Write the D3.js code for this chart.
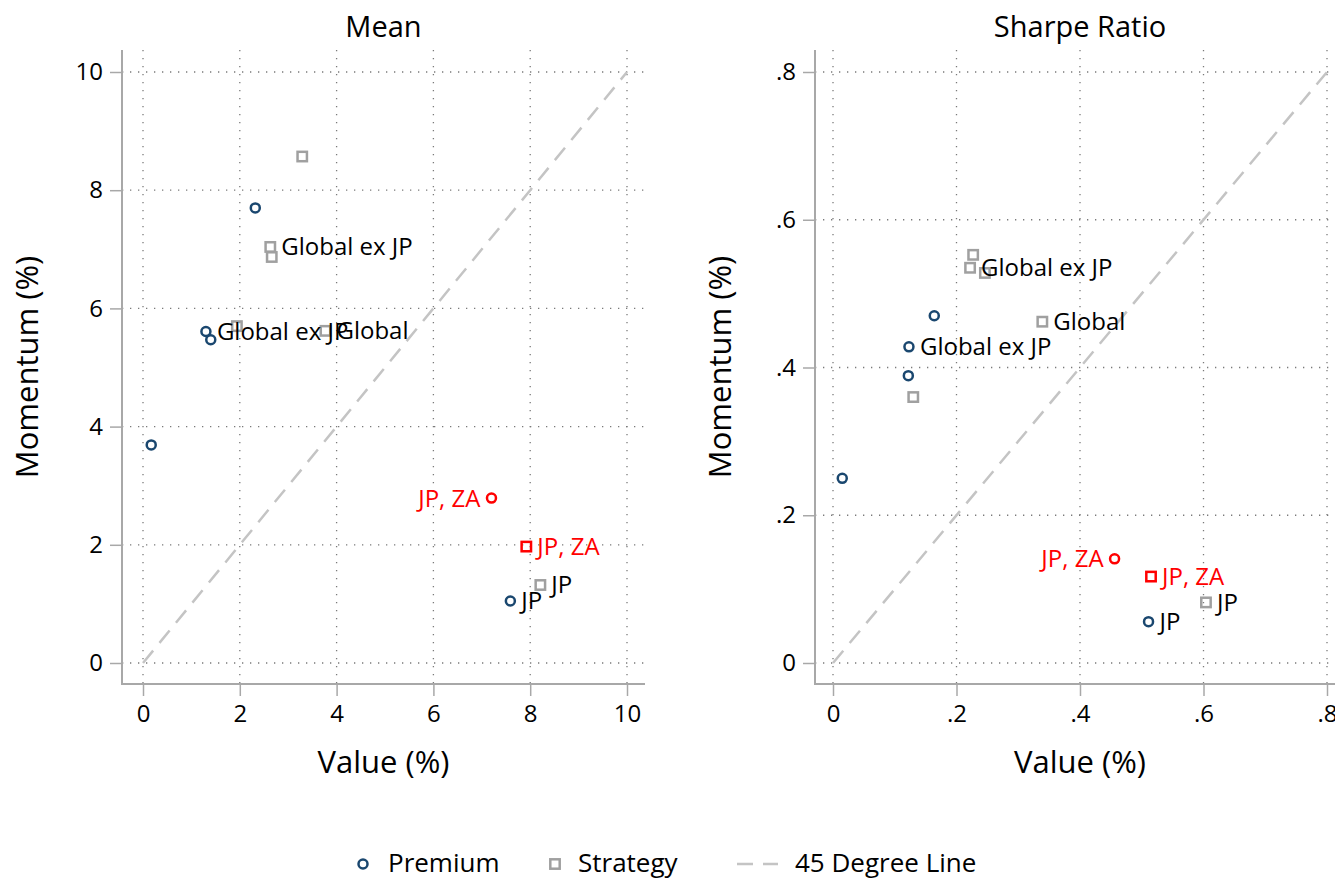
<!DOCTYPE html>
<html>
<head>
<meta charset="utf-8">
<script src="https://cdn.jsdelivr.net/npm/d3@7"></script>
<style>
  html, body { margin: 0; padding: 0; background: #fff; }
  svg { display: block; font-family: "Open Sans", "Noto Sans", sans-serif; }
</style>
</head>
<body>
<svg id="chart" width="1335" height="879"></svg>
<script>
// ---------- DATA ----------
const panelTitles = ["Mean", "Sharpe Ratio"];
const meanTicks = [0, 2, 4, 6, 8, 10];
const sharpeTicks = [0, 0.2, 0.4, 0.6, 0.8];

const premiumLabels = ["", "", "Global ex JP", "", "JP", "JP, ZA"];
const premiumHighlight = [false, false, false, false, false, true];
const premiumMeanX = [0.17, 2.32, 1.30, 1.40, 7.59, 7.20];
const premiumMeanY = [3.69, 7.70, 5.61, 5.47, 1.05, 2.79];
const premiumSharpeX = [0.015, 0.164, 0.123, 0.122, 0.511, 0.456];
const premiumSharpeY = [0.250, 0.470, 0.428, 0.389, 0.056, 0.141];

const strategyLabels = ["", "Global ex JP", "", "", "Global", "JP", "JP, ZA"];
const strategyHighlight = [false, false, false, false, false, false, true];
const strategyMeanX = [3.29, 2.63, 2.66, 1.94, 3.77, 8.21, 7.92];
const strategyMeanY = [8.57, 7.04, 6.87, 5.70, 5.62, 1.32, 1.97];
const strategySharpeX = [0.227, 0.222, 0.246, 0.130, 0.339, 0.604, 0.515];
const strategySharpeY = [0.5525, 0.535, 0.528, 0.360, 0.462, 0.082, 0.117];

const legendLabels = ["Premium", "Strategy", "45 Degree Line"];

// ---------- STYLE ----------
const NAVY = "#1a476f", GRAY = "#a0a0a0", RED = "#ff0000", LINEGRAY = "#c4c4c4", AXIS = "#a8a8a8";
const FONT = '"Open Sans", "Noto Sans", sans-serif';

const svg = d3.select("#chart");

const panels = [
  {
    title: panelTitles[0], ticks: meanTicks, max: 10,
    fmt: d => String(d),
    region: {x0: 122, x1: 645, y0: 50, y1: 684},
    xr: [143, 627], yr: [663, 72],
    prem: {x: premiumMeanX, y: premiumMeanY},
    strat: {x: strategyMeanX, y: strategyMeanY}
  },
  {
    title: panelTitles[1], ticks: sharpeTicks, max: 0.8,
    fmt: d => d === 0 ? "0" : d3.format(".1f")(d).replace(/^0/, ""),
    region: {x0: 815, x1: 1345, y0: 50, y1: 684},
    xr: [833, 1327], yr: [663, 72],
    prem: {x: premiumSharpeX, y: premiumSharpeY},
    strat: {x: strategySharpeX, y: strategySharpeY}
  }
];

panels.forEach(p => {
  const x = d3.scaleLinear().domain([0, p.max]).range(p.xr);
  const y = d3.scaleLinear().domain([0, p.max]).range(p.yr);
  const r = p.region;
  const g = svg.append("g");

  // grid
  g.append("g").selectAll("line").data(p.ticks).join("line")
    .attr("x1", d => x(d)).attr("x2", d => x(d))
    .attr("y1", r.y0).attr("y2", r.y1)
    .attr("stroke", "#7a7a7a").attr("stroke-width", 1.3)
    .attr("stroke-dasharray", "1.3,6.7");
  g.append("g").selectAll("line").data(p.ticks).join("line")
    .attr("y1", d => y(d)).attr("y2", d => y(d))
    .attr("x1", r.x0).attr("x2", r.x1)
    .attr("stroke", "#7a7a7a").attr("stroke-width", 1.3)
    .attr("stroke-dasharray", "1.3,6.7");

  // 45 degree line
  g.append("line")
    .attr("x1", x(0)).attr("y1", y(0)).attr("x2", x(p.max)).attr("y2", y(p.max))
    .attr("stroke", LINEGRAY).attr("stroke-width", 2.5)
    .attr("stroke-dasharray", "16,10");

  // axes
  const yAxis = d3.axisLeft(y).tickValues(p.ticks).tickFormat(p.fmt).tickSize(12).tickPadding(7);
  const yg = g.append("g").attr("transform", `translate(${r.x0},0)`).call(yAxis);
  const xAxis = d3.axisBottom(x).tickValues(p.ticks).tickFormat(p.fmt).tickSize(12).tickPadding(9);
  const xg = g.append("g").attr("transform", `translate(0,${r.y1})`).call(xAxis);
  [yg, xg].forEach(a => {
    a.select(".domain").remove();
    a.selectAll(".tick line").attr("stroke", AXIS).attr("stroke-width", 1.5);
    a.selectAll(".tick text").attr("fill", "#000").style("font-size", "24px")
      .style("font-family", FONT);
  });
  g.append("line").attr("x1", r.x0).attr("x2", r.x0).attr("y1", r.y0).attr("y2", r.y1 + 1)
    .attr("stroke", AXIS).attr("stroke-width", 2);
  g.append("line").attr("x1", r.x0 - 1).attr("x2", r.x1).attr("y1", r.y1).attr("y2", r.y1)
    .attr("stroke", AXIS).attr("stroke-width", 2);

  // titles
  g.append("text").attr("x", (r.x0 + r.x1) / 2).attr("y", 37)
    .attr("text-anchor", "middle").style("font-size", "29px").text(p.title);
  g.append("text").attr("x", (r.x0 + r.x1) / 2).attr("y", 773)
    .attr("text-anchor", "middle").style("font-size", "31px").text("Value (%)");
  g.append("text").attr("transform", `translate(${r.x0 - 84},${(r.y0 + r.y1) / 2}) rotate(-90)`)
    .attr("text-anchor", "middle").style("font-size", "31px").text("Momentum (%)");

  // strategy squares
  const sIdx = d3.range(p.strat.x.length);
  g.append("g").selectAll("rect").data(sIdx).join("rect")
    .attr("x", i => x(p.strat.x[i]) - 4.7).attr("y", i => y(p.strat.y[i]) - 4.7)
    .attr("width", 9.4).attr("height", 9.4)
    .attr("fill", "none").attr("stroke", i => strategyHighlight[i] ? RED : GRAY).attr("stroke-width", 2.5);

  // premium circles
  const pIdx = d3.range(p.prem.x.length);
  g.append("g").selectAll("circle").data(pIdx).join("circle")
    .attr("cx", i => x(p.prem.x[i])).attr("cy", i => y(p.prem.y[i]))
    .attr("r", 4.5)
    .attr("fill", "none").attr("stroke", i => premiumHighlight[i] ? RED : NAVY).attr("stroke-width", 2.5);

  // labels
  g.append("g").selectAll("text").data(sIdx.filter(i => strategyLabels[i])).join("text")
    .attr("x", i => x(p.strat.x[i]) + 11).attr("y", i => y(p.strat.y[i]))
    .attr("dy", "0.35em").style("font-size", "24px")
    .attr("fill", i => strategyHighlight[i] ? RED : "#000")
    .text(i => strategyLabels[i]);
  g.append("g").selectAll("text").data(pIdx.filter(i => premiumLabels[i])).join("text")
    .attr("x", i => premiumHighlight[i] ? x(p.prem.x[i]) - 11 : x(p.prem.x[i]) + 11)
    .attr("y", i => y(p.prem.y[i]))
    .attr("text-anchor", i => premiumHighlight[i] ? "end" : "start")
    .attr("dy", "0.35em").style("font-size", "24px")
    .attr("fill", i => premiumHighlight[i] ? RED : "#000")
    .text(i => premiumLabels[i]);
});

// ---------- LEGEND ----------
const lg = svg.append("g").attr("transform", "translate(0,863)");
lg.append("circle").attr("cx", 363).attr("cy", 1).attr("r", 4.5)
  .attr("fill", "none").attr("stroke", NAVY).attr("stroke-width", 2.5);
lg.append("text").attr("x", 388).attr("y", 0).attr("dy", "0.35em").style("font-size", "26px").text(legendLabels[0]);
lg.append("rect").attr("x", 550.3).attr("y", -3.7).attr("width", 9.4).attr("height", 9.4)
  .attr("fill", "none").attr("stroke", GRAY).attr("stroke-width", 2.5);
lg.append("text").attr("x", 578).attr("y", 0).attr("dy", "0.35em").style("font-size", "26px").text(legendLabels[1]);
lg.append("line").attr("x1", 737).attr("x2", 778).attr("y1", 1).attr("y2", 1)
  .attr("stroke", LINEGRAY).attr("stroke-width", 2.5).attr("stroke-dasharray", "16,10");
lg.append("text").attr("x", 795).attr("y", 0).attr("dy", "0.35em").style("font-size", "26px").text(legendLabels[2]);
</script>
</body>
</html>
